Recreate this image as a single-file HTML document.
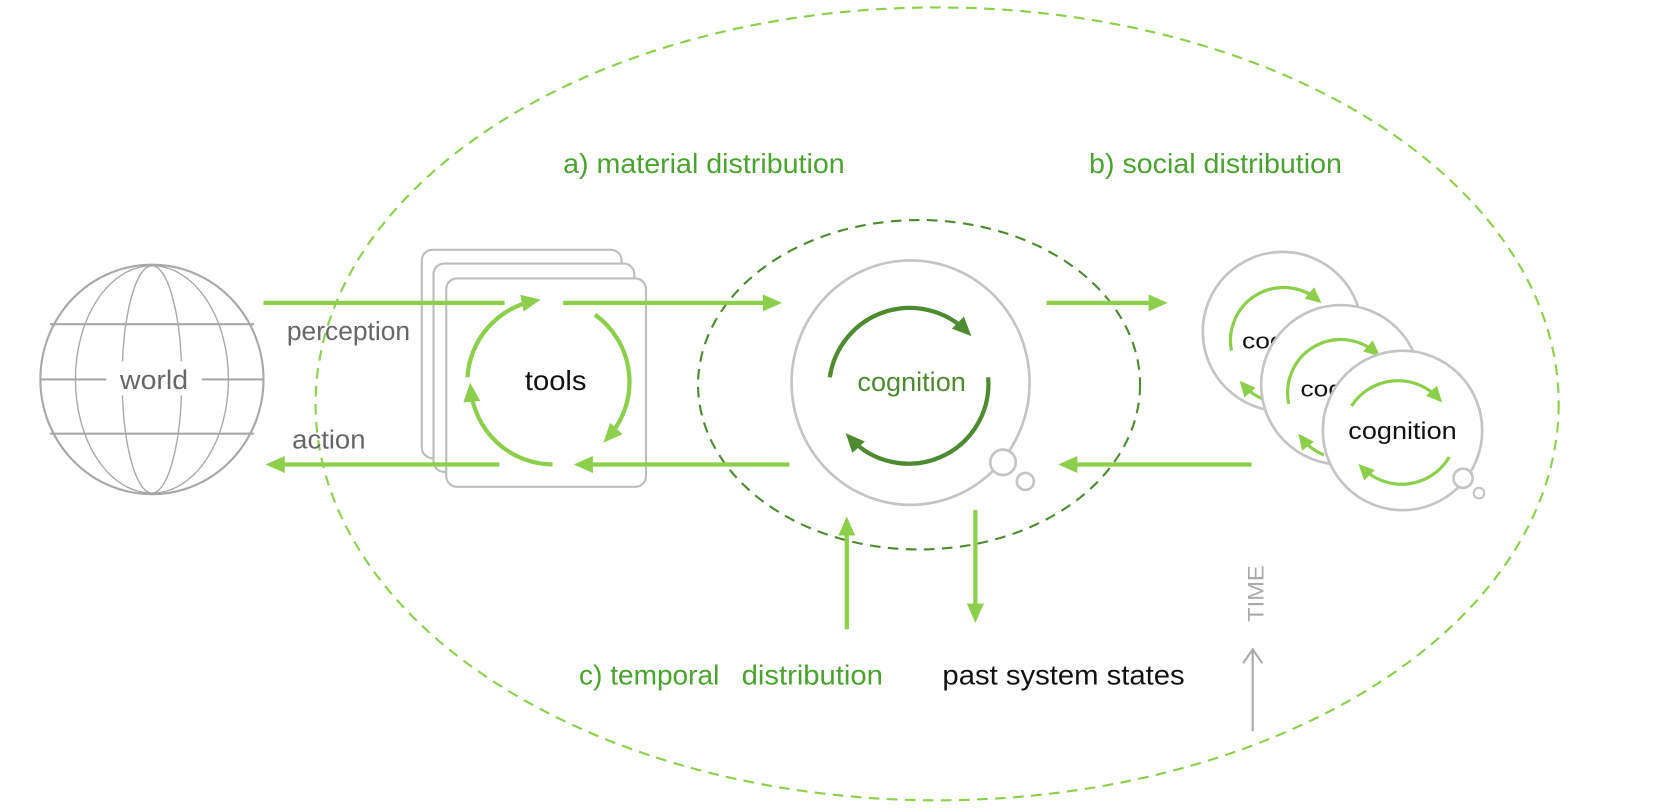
<!DOCTYPE html>
<html><head><meta charset="utf-8"><style>
html,body{margin:0;padding:0;background:#fff;}
svg{display:block;}
text{font-family:"Liberation Sans Narrow","Liberation Sans",sans-serif;}
</style></head><body>
<svg width="1666" height="812" viewBox="0 0 1568 764" preserveAspectRatio="none" xmlns="http://www.w3.org/2000/svg">
<defs>
<marker id="ml" markerUnits="userSpaceOnUse" markerWidth="24" markerHeight="24" refX="12" refY="8" orient="auto"><path d="M0,0 L18,8 L0,16 Z" fill="#8ccf4b"/></marker>
<marker id="md" markerUnits="userSpaceOnUse" markerWidth="24" markerHeight="24" refX="12" refY="8" orient="auto"><path d="M0,0 L18,8 L0,16 Z" fill="#4e8a30"/></marker>
<marker id="ms" markerUnits="userSpaceOnUse" markerWidth="20" markerHeight="20" refX="10" refY="7" orient="auto"><path d="M0,0 L15,7 L0,14 Z" fill="#8ccf4b"/></marker>
</defs>
<!-- outer ellipse -->
<ellipse cx="882" cy="380" rx="585" ry="373" fill="none" stroke="#8ccf4b" stroke-width="2" stroke-dasharray="10,7"/>
<!-- inner ellipse -->
<ellipse cx="865" cy="362" rx="208" ry="155" fill="none" stroke="#4e8a30" stroke-width="2" stroke-dasharray="10,7"/>

<!-- globe -->
<g fill="none" stroke="#a8a8a8" stroke-width="2">
<ellipse cx="143" cy="357" rx="105" ry="108"/>
<ellipse cx="143" cy="357" rx="72" ry="107" stroke-width="1.3"/>
<ellipse cx="143" cy="357" rx="28" ry="107" stroke-width="1.3"/>
<line x1="47" y1="305" x2="239" y2="305"/>
<line x1="47" y1="408" x2="239" y2="408"/>
<line x1="38" y1="357" x2="100" y2="357"/>
<line x1="190" y1="357" x2="248" y2="357"/>
</g>
<rect x="104" y="340" width="84" height="32" fill="#fff"/>
<text x="145" y="366" font-size="25" fill="#666" text-anchor="middle" textLength="64" lengthAdjust="spacingAndGlyphs">world</text>

<!-- tools boxes -->
<g fill="#fff" stroke="#bdbdbd" stroke-width="2">
<rect x="397" y="235" width="188" height="196" rx="10"/>
<rect x="408" y="248" width="189" height="196" rx="10"/>
<rect x="420" y="262" width="188" height="196" rx="10"/>
</g>
<g fill="none" stroke="#8ccf4b" stroke-width="4">
<path d="M440 355 A78 78 0 0 1 503 283" marker-end="url(#ml)"/>
<path d="M560 296 A78 78 0 0 1 572 412" marker-end="url(#ml)"/>
<path d="M520 437 A78 78 0 0 1 443 366" marker-end="url(#ml)"/>
</g>
<text x="523" y="367" font-size="26" fill="#111" text-anchor="middle" textLength="58" lengthAdjust="spacingAndGlyphs">tools</text>

<!-- horizontal arrows -->
<g stroke="#8ccf4b" stroke-width="4" fill="none">
<line x1="248" y1="285" x2="475" y2="285"/>
<line x1="530" y1="285" x2="730" y2="285" marker-end="url(#ml)"/>
<line x1="985" y1="285" x2="1093" y2="285" marker-end="url(#ml)"/>
<line x1="470" y1="437" x2="256" y2="437" marker-end="url(#ml)"/>
<line x1="743" y1="437" x2="546" y2="437" marker-end="url(#ml)"/>
<line x1="1178" y1="437" x2="1002" y2="437" marker-end="url(#ml)"/>
<line x1="797" y1="592" x2="797" y2="492" marker-end="url(#ml)"/>
<line x1="918" y1="480" x2="918" y2="580" marker-end="url(#ml)"/>
</g>
<text x="270" y="320" font-size="24" fill="#666" textLength="116" lengthAdjust="spacingAndGlyphs">perception</text>
<text x="275" y="422" font-size="24" fill="#666" textLength="69" lengthAdjust="spacingAndGlyphs">action</text>

<!-- main cognition -->
<ellipse cx="857" cy="360" rx="112" ry="115" fill="#fff" stroke="#c4c4c4" stroke-width="2.5"/>
<circle cx="944" cy="435" r="12" fill="#fff" stroke="#c4c4c4" stroke-width="2.5"/>
<circle cx="965" cy="453" r="8" fill="#fff" stroke="#c4c4c4" stroke-width="2.5"/>
<g fill="none" stroke="#4e8a30" stroke-width="4">
<path d="M781 355 A76 76 0 0 1 910 312" marker-end="url(#md)"/>
<path d="M930 355 A75 75 0 0 1 800 412" marker-end="url(#md)"/>
</g>
<text x="858" y="368" font-size="25" fill="#4e8a30" text-anchor="middle" textLength="102" lengthAdjust="spacingAndGlyphs">cognition</text>

<!-- social circles -->
<g>
<circle cx="1207" cy="312" r="75" fill="#fff" stroke="#c4c4c4" stroke-width="2.5"/>
<g fill="none" stroke="#8ccf4b" stroke-width="3"><path d="M1159 330 A50 50 0 0 1 1240 282" marker-end="url(#ms)"/><path d="M1190 376 A50 50 0 0 1 1170 362" marker-end="url(#ms)"/></g>
<text x="1169" y="328" font-size="21" fill="#111" textLength="40" lengthAdjust="spacingAndGlyphs">cog</text>
<circle cx="1262" cy="362" r="75" fill="#fff" stroke="#c4c4c4" stroke-width="2.5"/>
<g fill="none" stroke="#8ccf4b" stroke-width="3"><path d="M1213 380 A50 50 0 0 1 1295 332" marker-end="url(#ms)"/><path d="M1246 428 A50 50 0 0 1 1225 412" marker-end="url(#ms)"/></g>
<text x="1224" y="373" font-size="21" fill="#111" textLength="40" lengthAdjust="spacingAndGlyphs">cog</text>
<circle cx="1320" cy="405" r="75" fill="#fff" stroke="#c4c4c4" stroke-width="2.5"/>
<circle cx="1377" cy="450" r="9" fill="#fff" stroke="#c4c4c4" stroke-width="2.5"/>
<circle cx="1392" cy="464" r="5" fill="#fff" stroke="#c4c4c4" stroke-width="2"/>
<g fill="none" stroke="#8ccf4b" stroke-width="3"><path d="M1272 382 A52 52 0 0 1 1354 375" marker-end="url(#ms)"/><path d="M1364 430 A52 52 0 0 1 1282 440" marker-end="url(#ms)"/></g>
<text x="1320" y="413" font-size="23" fill="#111" text-anchor="middle" textLength="102" lengthAdjust="spacingAndGlyphs">cognition</text>
</g>

<!-- labels -->
<text x="530" y="163" font-size="26" fill="#4aa22f" textLength="265" lengthAdjust="spacingAndGlyphs">a) material distribution</text>
<text x="1025" y="163" font-size="26" fill="#4aa22f" textLength="238" lengthAdjust="spacingAndGlyphs">b) social distribution</text>
<text x="545" y="644" font-size="26" fill="#4aa22f" textLength="132" lengthAdjust="spacingAndGlyphs">c) temporal</text>
<text x="698" y="644" font-size="26" fill="#4aa22f" textLength="133" lengthAdjust="spacingAndGlyphs">distribution</text>
<text x="887" y="644" font-size="26" fill="#111" textLength="228" lengthAdjust="spacingAndGlyphs">past system states</text>

<!-- TIME -->
<text transform="translate(1189,585) rotate(-90)" font-size="21" fill="#aaa" textLength="53" lengthAdjust="spacingAndGlyphs">TIME</text>
<g stroke="#aaa" stroke-width="2" fill="none">
<line x1="1179" y1="688" x2="1179" y2="612"/>
<path d="M1170 624 L1179 611 L1188 624"/>
</g>
</svg>
</body></html>
